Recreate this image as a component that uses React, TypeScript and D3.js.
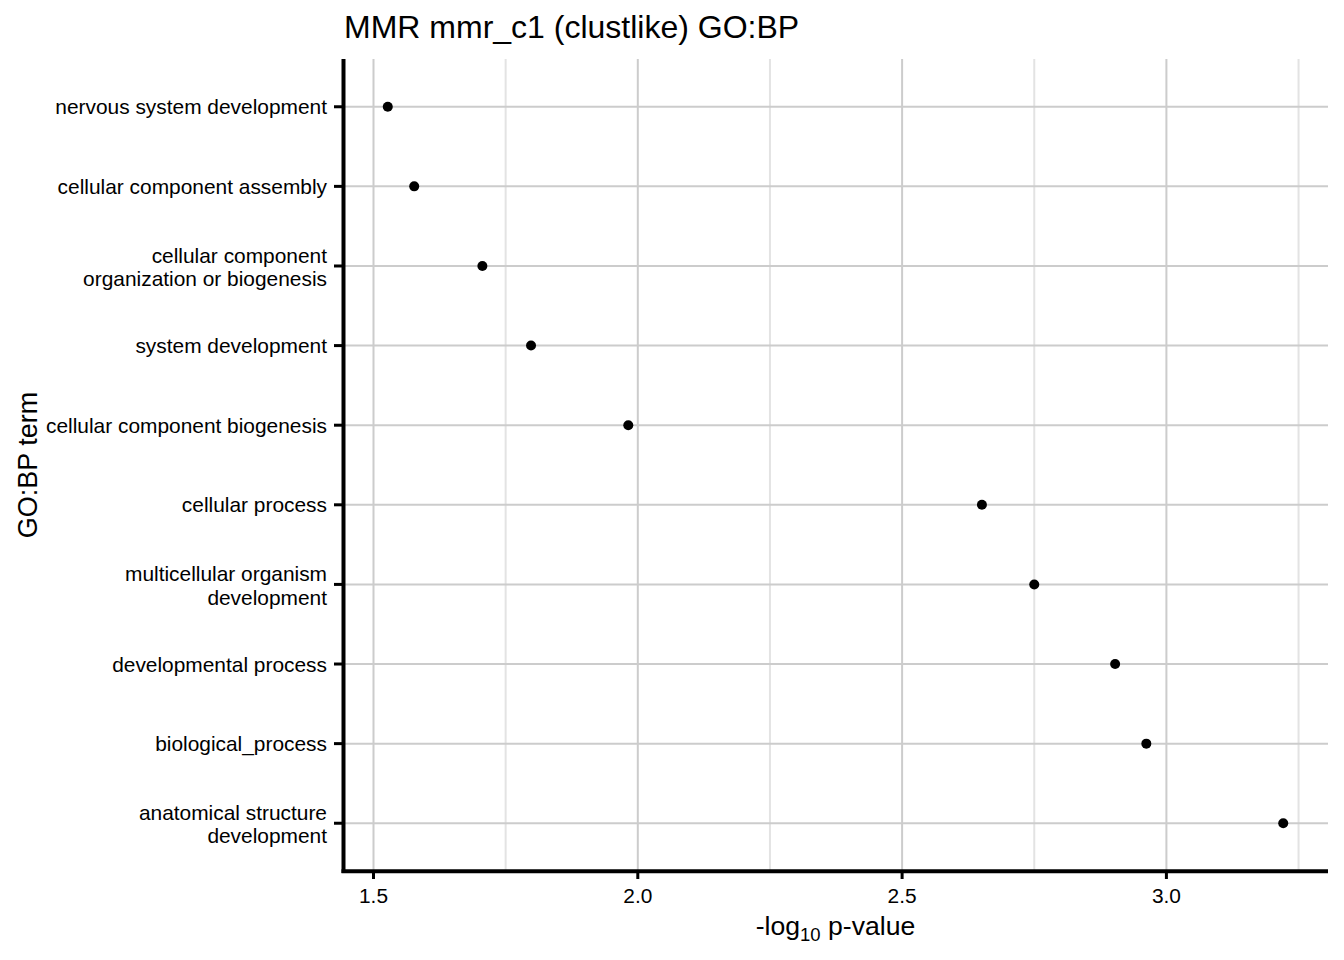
import React from "react";
import * as d3 from "d3";

const terms: string[][] = [
  ["nervous system development"],
  ["cellular component assembly"],
  ["cellular component", "organization or biogenesis"],
  ["system development"],
  ["cellular component biogenesis"],
  ["cellular process"],
  ["multicellular organism", "development"],
  ["developmental process"],
  ["biological_process"],
  ["anatomical structure", "development"],
];
const negLogP: number[] = [1.527, 1.577, 1.706, 1.798, 1.982, 2.651, 2.75, 2.903, 2.962, 3.221];
const xMajorTicks: number[] = [1.5, 2.0, 2.5, 3.0];
const xMinorTicks: number[] = [1.75, 2.25, 2.75, 3.25];
const titleText = "MMR mmr_c1 (clustlike) GO:BP";
const yTitle = "GO:BP term";

const W = 1344;
const H = 960;
const panel = { left: 343, right: 1328, top: 59, bottom: 871 };
const FONT = "'Liberation Sans', Arial, sans-serif";
const TICK_FS = 20.9;

export default function App() {
  const keys = terms.map((t) => t.join(" "));
  const ext = d3.extent(negLogP) as [number, number];
  const pad = (ext[1] - ext[0]) * 0.05;
  const x = d3.scaleLinear().domain([ext[0] - pad, ext[1] + pad]).range([panel.left, panel.right]);
  const y = d3.scalePoint<string>().domain(keys).range([panel.top, panel.bottom]).padding(0.6);

  const major = "#cccccc";
  const minor = "#e3e3e3";

  return (
    <svg width={W} height={H} style={{ display: "block", position: "absolute", left: 0, top: 0, background: "#fff" }}>
      <rect x={0} y={0} width={W} height={H} fill="#fff" />
      {xMinorTicks.filter((v) => x(v) <= panel.right).map((v) => (
        <line key={"mn" + v} x1={x(v)} x2={x(v)} y1={panel.top} y2={panel.bottom} stroke={minor} strokeWidth={2} />
      ))}
      {xMajorTicks.map((v) => (
        <line key={"mj" + v} x1={x(v)} x2={x(v)} y1={panel.top} y2={panel.bottom} stroke={major} strokeWidth={2} />
      ))}
      {keys.map((k) => (
        <line key={"h" + k} x1={panel.left} x2={panel.right} y1={y(k)!} y2={y(k)!} stroke={major} strokeWidth={2} />
      ))}
      {keys.map((k, i) => (
        <circle key={"p" + k} cx={x(negLogP[i])} cy={y(k)!} r={5} fill="#000" />
      ))}
      <line x1={panel.left + 0.5} x2={panel.left + 0.5} y1={panel.top} y2={panel.bottom + 2} stroke="#000" strokeWidth={4} />
      <line x1={panel.left - 1.5} x2={panel.right} y1={panel.bottom + 0.3} y2={panel.bottom + 0.3} stroke="#000" strokeWidth={4} />
      {xMajorTicks.map((v) => (
        <g key={"xt" + v}>
          <line x1={x(v)} x2={x(v)} y1={panel.bottom} y2={panel.bottom + 8} stroke="#000" strokeWidth={3} />
          <text x={x(v)} y={903} textAnchor="middle" fontFamily={FONT} fontSize={TICK_FS} fill="#000">
            {v.toFixed(1)}
          </text>
        </g>
      ))}
      {terms.map((t, i) => {
        const cy = y(keys[i])!;
        return (
          <g key={"yt" + i}>
            <line x1={panel.left - 9} x2={panel.left} y1={cy} y2={cy} stroke="#000" strokeWidth={3} />
            {t.length === 1 ? (
              <text x={327} y={cy + 7.5} textAnchor="end" fontFamily={FONT} fontSize={TICK_FS} fill="#000">
                {t[0]}
              </text>
            ) : (
              t.map((line, j) => (
                <text key={j} x={327} y={cy - 3.3 + j * 23.5} textAnchor="end" fontFamily={FONT} fontSize={TICK_FS} fill="#000">
                  {line}
                </text>
              ))
            )}
          </g>
        );
      })}
      <text x={344} y={38} fontFamily={FONT} fontSize={32} fill="#000">
        {titleText}
      </text>
      <text x={(panel.left + panel.right) / 2} y={935} textAnchor="middle" fontFamily={FONT} fontSize={26.6} fill="#000">
        -log
        <tspan fontSize={18.5} dy={6}>10</tspan>
        <tspan dy={-6}> p-value</tspan>
      </text>
      <text
        transform={`translate(37, ${(panel.top + panel.bottom) / 2}) rotate(-90)`}
        textAnchor="middle"
        fontFamily={FONT}
        fontSize={27}
        fill="#000"
      >
        {yTitle}
      </text>
    </svg>
  );
}
